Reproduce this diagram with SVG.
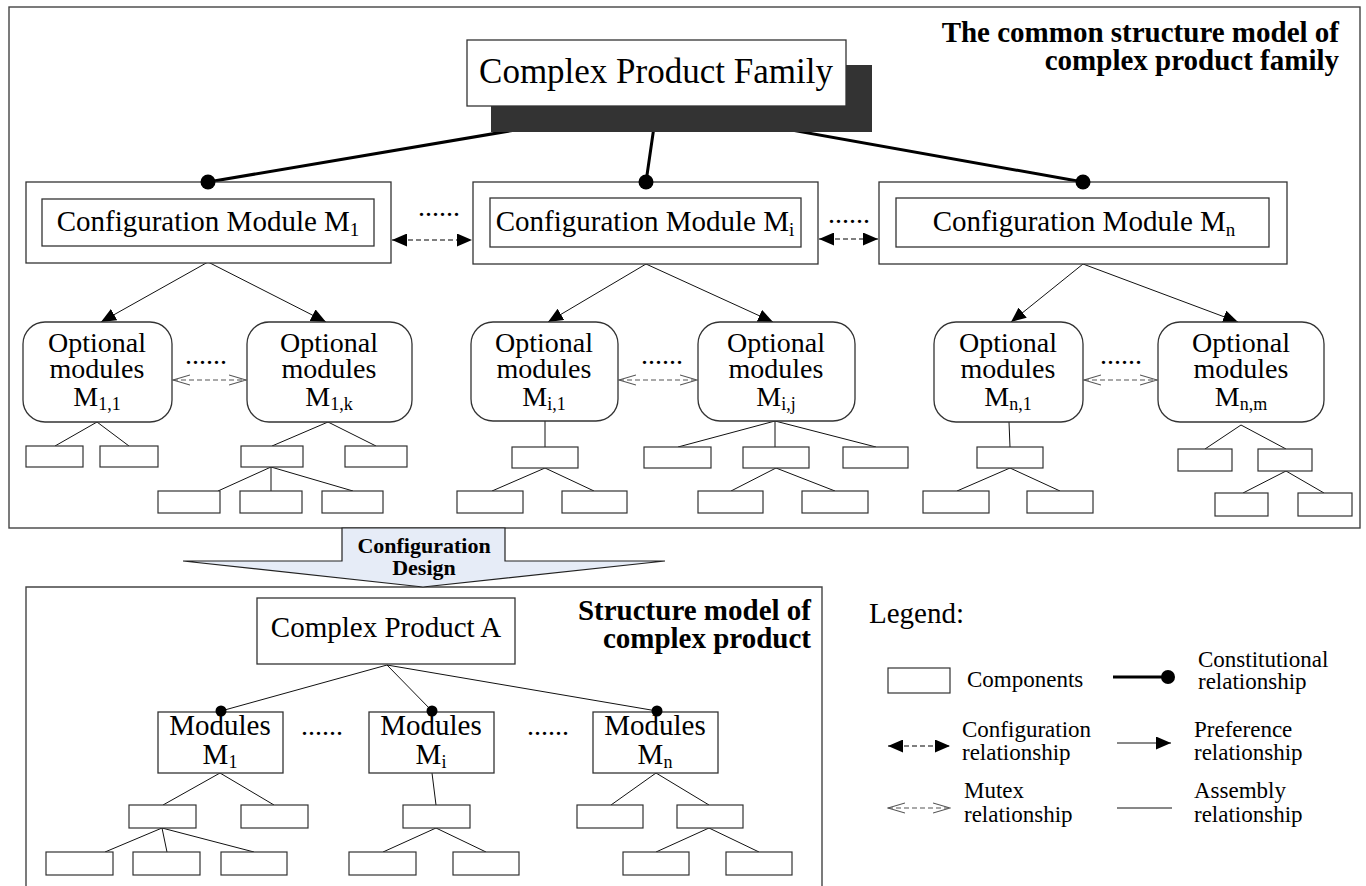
<svg xmlns="http://www.w3.org/2000/svg" width="1366" height="886" viewBox="0 0 1366 886">
<style>
.frame{fill:none;stroke:#444;stroke-width:1.4}
.box{fill:#fff;stroke:#333;stroke-width:1.3}
.rbox{fill:#fff;stroke:#333;stroke-width:1.3}
.comp{fill:#fff;stroke:#333;stroke-width:1.2}
.t{font-family:"Liberation Serif","Times New Roman",serif;fill:#000}
.b{font-weight:bold}
.ln{stroke:#111;stroke-width:1;fill:none}
.thick{stroke:#000;stroke-width:3;fill:none}
.cfg{stroke:#555;stroke-width:1.3;stroke-dasharray:5 3;fill:none}
.mtx{stroke:#555;stroke-width:1.1;stroke-dasharray:5 3;fill:none}
</style>
<defs>
<marker id="af" viewBox="0 0 15 13" refX="15" refY="6.5" markerWidth="15" markerHeight="13" markerUnits="userSpaceOnUse" orient="auto-start-reverse"><path d="M0,0 L15,6.5 L0,13 Z" fill="#000"/></marker>
<marker id="ao" viewBox="0 0 18 12" refX="17" refY="6" markerWidth="18" markerHeight="12" markerUnits="userSpaceOnUse" orient="auto-start-reverse"><path d="M0,1 L17,6 L0,11" fill="none" stroke="#555" stroke-width="1.1"/></marker>
</defs>

<g id="family-frame">
<rect class="frame" x="9" y="7" width="1351" height="521"/>
<text class="t b" x="1339" y="42" font-size="29" text-anchor="end">The common structure model of</text>
<text class="t b" x="1339" y="70" font-size="29" text-anchor="end">complex product family</text>
</g>

<g id="product-frame">
<path class="frame" d="M26,890 L26,587 L822,587 L822,890"/>
<text class="t b" x="811" y="620" font-size="29" text-anchor="end">Structure model of</text>
<text class="t b" x="811" y="648" font-size="29" text-anchor="end">complex product</text>
</g>

<g id="connectors">
<path class="thick" d="M657,106 L208,182 M657,106 L646,182 M657,106 L1083,182"/>
<line class="cfg" x1="392" y1="240" x2="472" y2="240" marker-start="url(#af)" marker-end="url(#af)"/>
<line class="cfg" x1="819" y1="239" x2="878" y2="239" marker-start="url(#af)" marker-end="url(#af)"/>
<line class="ln" x1="208" y1="262" x2="101" y2="322" marker-end="url(#af)"/>
<line class="ln" x1="208" y1="262" x2="326" y2="322" marker-end="url(#af)"/>
<line class="ln" x1="646" y1="264" x2="548" y2="322" marker-end="url(#af)"/>
<line class="ln" x1="646" y1="264" x2="773" y2="322" marker-end="url(#af)"/>
<line class="ln" x1="1083" y1="264" x2="1011" y2="322" marker-end="url(#af)"/>
<line class="ln" x1="1083" y1="264" x2="1238" y2="322" marker-end="url(#af)"/>
<line class="mtx" x1="173" y1="380" x2="246" y2="380" marker-start="url(#ao)" marker-end="url(#ao)"/>
<line class="mtx" x1="619" y1="380" x2="697" y2="380" marker-start="url(#ao)" marker-end="url(#ao)"/>
<line class="mtx" x1="1084" y1="380" x2="1157" y2="380" marker-start="url(#ao)" marker-end="url(#ao)"/>
<path class="ln" d="M97,422 L55,446 M97,422 L129,446
M328,422 L272,446 M328,422 L376,446
M271,467 L218,491 M271,467 L271,491 M271,467 L353,491
M545,421 L545,447 M545,468 L492,491 M545,468 L594,491
M775,421 L678,447 M775,421 L775,447 M775,421 L876,447
M776,468 L731,491 M776,468 L835,491
M1009,422 L1010,447 M1010,468 L957,491 M1010,468 L1060,491
M1241,425 L1205,449 M1241,425 L1286,449
M1286,471 L1243,493 M1286,471 L1324,493"/>
<path class="ln" d="M387,665 L221,711 M387,665 L432,711 M387,665 L657,711
M220,773 L163,805 M220,773 L274,805
M162,828 L105,852 M162,828 L167,852 M162,828 L254,852
M432,773 L436,805 M436,828 L383,852 M436,828 L486,852
M656,773 L611,805 M656,773 L709,805
M709,828 L656,852 M709,828 L759,852"/>
</g>

<g id="complex-product-family">
<rect x="491" y="65" width="381" height="67" fill="#333"/>
<rect class="box" x="467" y="40" width="379" height="66"/>
<text class="t" x="656" y="83" font-size="35" text-anchor="middle">Complex Product Family</text>
</g>

<g id="config-m1">
<rect class="box" x="26" y="182" width="365" height="81"/>
<rect class="box" x="42" y="199" width="332" height="47"/>
<text class="t" x="208" y="231" font-size="29" text-anchor="middle">Configuration Module M<tspan font-size="19" dy="5">1</tspan></text>
</g>
<g id="config-mi">
<rect class="box" x="473" y="182" width="345" height="82"/>
<rect class="box" x="490" y="198" width="311" height="49"/>
<text class="t" x="645" y="231" font-size="29" text-anchor="middle">Configuration Module M<tspan font-size="19" dy="5">i</tspan></text>
</g>
<g id="config-mn">
<rect class="box" x="879" y="182" width="408" height="82"/>
<rect class="box" x="896" y="198" width="373" height="49"/>
<text class="t" x="1084" y="231" font-size="29" text-anchor="middle">Configuration Module M<tspan font-size="19" dy="5">n</tspan></text>
</g>

<g id="constitutional-dots">
<circle cx="208" cy="182" r="7.5"/>
<circle cx="646" cy="182" r="7.5"/>
<circle cx="1083" cy="182" r="7.5"/>
</g>

<g id="ellipses-top" class="t" font-size="28" text-anchor="middle">
<text x="439" y="216">......</text>
<text x="849" y="223">......</text>
<text x="206" y="364">......</text>
<text x="662" y="364">......</text>
<text x="1121" y="364">......</text>
</g>

<g id="opt-m11">
<rect class="rbox" x="23" y="322" width="149" height="100" rx="22"/>
<text class="t" font-size="28" text-anchor="middle"><tspan x="97" y="352">Optional</tspan><tspan x="97" y="378">modules</tspan><tspan x="97" y="406">M<tspan font-size="18" dy="4">1,1</tspan></tspan></text>
</g>
<g id="opt-m1k">
<rect class="rbox" x="247" y="322" width="165" height="100" rx="22"/>
<text class="t" font-size="28" text-anchor="middle"><tspan x="329" y="352">Optional</tspan><tspan x="329" y="378">modules</tspan><tspan x="329" y="406">M<tspan font-size="18" dy="4">1,k</tspan></tspan></text>
</g>
<g id="opt-mi1">
<rect class="rbox" x="471" y="322" width="147" height="99" rx="22"/>
<text class="t" font-size="28" text-anchor="middle"><tspan x="544" y="352">Optional</tspan><tspan x="544" y="378">modules</tspan><tspan x="544" y="406">M<tspan font-size="18" dy="4">i,1</tspan></tspan></text>
</g>
<g id="opt-mij">
<rect class="rbox" x="698" y="322" width="157" height="99" rx="22"/>
<text class="t" font-size="28" text-anchor="middle"><tspan x="776" y="352">Optional</tspan><tspan x="776" y="378">modules</tspan><tspan x="776" y="406">M<tspan font-size="18" dy="4">i,j</tspan></tspan></text>
</g>
<g id="opt-mn1">
<rect class="rbox" x="934" y="322" width="149" height="100" rx="22"/>
<text class="t" font-size="28" text-anchor="middle"><tspan x="1008" y="352">Optional</tspan><tspan x="1008" y="378">modules</tspan><tspan x="1008" y="406">M<tspan font-size="18" dy="4">n,1</tspan></tspan></text>
</g>
<g id="opt-mnm">
<rect class="rbox" x="1158" y="322" width="166" height="100" rx="22"/>
<text class="t" font-size="28" text-anchor="middle"><tspan x="1241" y="352">Optional</tspan><tspan x="1241" y="378">modules</tspan><tspan x="1241" y="406">M<tspan font-size="18" dy="4">n,m</tspan></tspan></text>
</g>

<g id="components-top">
<rect class="comp" x="26" y="446" width="57" height="21"/>
<rect class="comp" x="100" y="446" width="58" height="21"/>
<rect class="comp" x="241" y="446" width="62" height="21"/>
<rect class="comp" x="345" y="446" width="62" height="21"/>
<rect class="comp" x="158" y="491" width="62" height="22"/>
<rect class="comp" x="240" y="491" width="62" height="22"/>
<rect class="comp" x="322" y="491" width="61" height="22"/>
<rect class="comp" x="512" y="447" width="66" height="21"/>
<rect class="comp" x="457" y="491" width="66" height="22"/>
<rect class="comp" x="562" y="491" width="65" height="22"/>
<rect class="comp" x="644" y="447" width="67" height="21"/>
<rect class="comp" x="743" y="447" width="66" height="21"/>
<rect class="comp" x="843" y="447" width="65" height="21"/>
<rect class="comp" x="698" y="491" width="65" height="22"/>
<rect class="comp" x="802" y="491" width="66" height="22"/>
<rect class="comp" x="977" y="447" width="66" height="21"/>
<rect class="comp" x="923" y="491" width="66" height="22"/>
<rect class="comp" x="1027" y="491" width="66" height="22"/>
<rect class="comp" x="1178" y="449" width="54" height="22"/>
<rect class="comp" x="1258" y="449" width="54" height="22"/>
<rect class="comp" x="1215" y="493" width="53" height="23"/>
<rect class="comp" x="1298" y="493" width="54" height="23"/>
</g>

<g id="configuration-design">
<path d="M342,528 L505,528 L505,561 L665,561 L423,587 L183,561 L342,561 Z" fill="#E6ECF7" stroke="#222" stroke-width="1.2"/>
<text class="t b" x="424" y="553" font-size="22" text-anchor="middle">Configuration</text>
<text class="t b" x="424" y="575" font-size="22" text-anchor="middle">Design</text>
</g>

<g id="complex-product-a">
<rect class="box" x="257" y="598" width="258" height="66"/>
<text class="t" x="386" y="637" font-size="29" text-anchor="middle">Complex Product A</text>
</g>

<g id="modules-m1">
<rect class="box" x="158" y="712" width="125" height="61"/>
<text class="t" font-size="29" text-anchor="middle"><tspan x="220" y="735">Modules</tspan><tspan x="220" y="764">M<tspan font-size="18" dy="4">1</tspan></tspan></text>
</g>
<g id="modules-mi">
<rect class="box" x="369" y="712" width="125" height="61"/>
<text class="t" font-size="29" text-anchor="middle"><tspan x="431" y="735">Modules</tspan><tspan x="431" y="764">M<tspan font-size="18" dy="4">i</tspan></tspan></text>
</g>
<g id="modules-mn">
<rect class="box" x="593" y="712" width="125" height="61"/>
<text class="t" font-size="29" text-anchor="middle"><tspan x="655" y="735">Modules</tspan><tspan x="655" y="764">M<tspan font-size="18" dy="4">n</tspan></tspan></text>
</g>
<g id="bottom-dots">
<circle cx="221" cy="711" r="5.5"/>
<circle cx="432" cy="711" r="5.5"/>
<circle cx="657" cy="711" r="5.5"/>
<text class="t" x="322" y="735" font-size="28" text-anchor="middle">......</text>
<text class="t" x="548" y="735" font-size="28" text-anchor="middle">......</text>
</g>

<g id="components-bottom">
<rect class="comp" x="129" y="805" width="67" height="23"/>
<rect class="comp" x="241" y="805" width="67" height="23"/>
<rect class="comp" x="46" y="852" width="67" height="23"/>
<rect class="comp" x="133" y="852" width="67" height="23"/>
<rect class="comp" x="221" y="852" width="66" height="23"/>
<rect class="comp" x="403" y="805" width="67" height="23"/>
<rect class="comp" x="349" y="852" width="67" height="23"/>
<rect class="comp" x="453" y="852" width="66" height="23"/>
<rect class="comp" x="577" y="805" width="66" height="23"/>
<rect class="comp" x="677" y="805" width="66" height="23"/>
<rect class="comp" x="623" y="852" width="66" height="23"/>
<rect class="comp" x="726" y="852" width="66" height="23"/>
</g>

<g id="legend">
<text class="t" x="869" y="623" font-size="29">Legend:</text>
<rect class="comp" x="888" y="668" width="62" height="25"/>
<text class="t" x="967" y="687" font-size="23">Components</text>
<line class="thick" x1="1113" y1="677" x2="1166" y2="677"/>
<circle cx="1168" cy="677" r="7"/>
<text class="t" x="1198" y="667" font-size="23">Constitutional</text>
<text class="t" x="1198" y="689" font-size="23">relationship</text>
<line class="cfg" x1="888" y1="746" x2="950" y2="746" marker-start="url(#af)" marker-end="url(#af)"/>
<text class="t" x="962" y="737" font-size="23">Configuration</text>
<text class="t" x="962" y="760" font-size="23">relationship</text>
<line class="ln" x1="1117" y1="743" x2="1171" y2="743" marker-end="url(#af)"/>
<text class="t" x="1194" y="737" font-size="23">Preference</text>
<text class="t" x="1194" y="760" font-size="23">relationship</text>
<line class="mtx" x1="888" y1="808" x2="950" y2="808" marker-start="url(#ao)" marker-end="url(#ao)"/>
<text class="t" x="964" y="798" font-size="23">Mutex</text>
<text class="t" x="964" y="822" font-size="23">relationship</text>
<line class="ln" x1="1117" y1="808" x2="1172" y2="808"/>
<text class="t" x="1194" y="798" font-size="23">Assembly</text>
<text class="t" x="1194" y="822" font-size="23">relationship</text>
</g>
</svg>
